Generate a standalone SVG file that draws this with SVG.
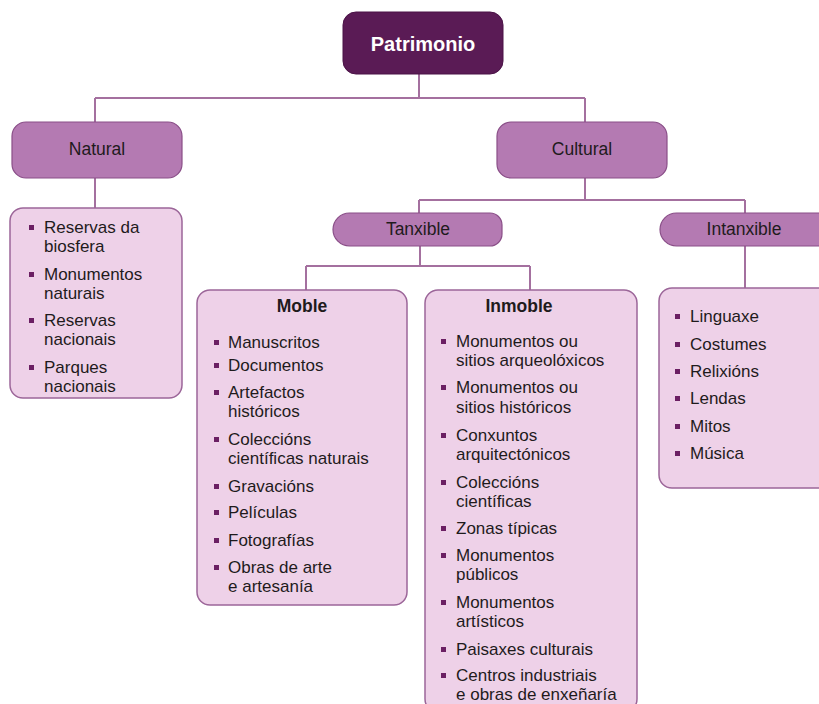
<svg xmlns="http://www.w3.org/2000/svg" width="819" height="704" viewBox="0 0 819 704">
<style>
  .conn { fill: none; stroke: #a4709f; stroke-width: 2; }
  .root { fill: #5a1b55; stroke: #4a1246; stroke-width: 1; }
  .mid { fill: #b47ab2; stroke: #8a4f88; stroke-width: 1.2; }
  .list { fill: #eed1e8; stroke: #9c6699; stroke-width: 1.5; }
  .t { font-family: "Liberation Sans", Arial, sans-serif; fill: #1f1b1c; }
  .lbl { font-size: 17.5px; text-anchor: middle; }
  .ttl { font-size: 17.5px; font-weight: bold; text-anchor: middle; }
  .li { font-size: 17px; }
  .rt { font-family: "Liberation Sans", Arial, sans-serif; font-size: 20px; font-weight: bold; fill: #ffffff; text-anchor: middle; }
  .b { fill: #6b1f63; }
</style>
<rect width="819" height="704" fill="#ffffff"/>

<g id="connectors">
  <path class="conn" d="M419 74 V98 M95 98 H585 M95 98 V122 M585 98 V122"/>
  <path class="conn" d="M95 178 V208"/>
  <path class="conn" d="M585 178 V200 M419 200 H745 M419 200 V213 M745 200 V213"/>
  <path class="conn" d="M420 246 V266 M306 266 H530 M306 266 V290 M530 266 V290"/>
  <path class="conn" d="M745 246 V288"/>
</g>

<g id="patrimonio">
  <rect class="root" x="343" y="12" width="160" height="62" rx="13"/>
  <text class="rt" x="423" y="51">Patrimonio</text>
</g>

<g id="natural">
  <rect class="mid" x="12" y="122" width="170" height="56" rx="14"/>
  <text class="t lbl" x="97" y="155">Natural</text>
</g>

<g id="cultural">
  <rect class="mid" x="497" y="122" width="170" height="56" rx="14"/>
  <text class="t lbl" x="582" y="155">Cultural</text>
</g>

<g id="tanxible">
  <path class="mid" d="M349.5 213 H490 A12 12 0 0 1 502 225 V234 A12 12 0 0 1 490 246 H349.5 A16.5 16.5 0 0 1 349.5 213 Z"/>
  <text class="t lbl" x="418" y="235">Tanxible</text>
</g>

<g id="intanxible">
  <path class="mid" d="M676.5 213 H820 A12 12 0 0 1 832 225 V234 A12 12 0 0 1 820 246 H676.5 A16.5 16.5 0 0 1 676.5 213 Z"/>
  <text class="t lbl" x="744" y="235">Intanxible</text>
</g>

<g id="natural-list">
  <rect class="list" x="10" y="208" width="172" height="190" rx="13"/>
  <rect class="b" x="29" y="225" width="5" height="5"/>
  <text class="t li" x="44" y="233">Reservas da</text>
  <text class="t li" x="44" y="252">biosfera</text>
  <rect class="b" x="29" y="272" width="5" height="5"/>
  <text class="t li" x="44" y="280">Monumentos</text>
  <text class="t li" x="44" y="299">naturais</text>
  <rect class="b" x="29" y="318" width="5" height="5"/>
  <text class="t li" x="44" y="326">Reservas</text>
  <text class="t li" x="44" y="345">nacionais</text>
  <rect class="b" x="29" y="365" width="5" height="5"/>
  <text class="t li" x="44" y="373">Parques</text>
  <text class="t li" x="44" y="392">nacionais</text>
</g>

<g id="moble">
  <rect class="list" x="197" y="290" width="210" height="315" rx="13"/>
  <text class="t ttl" x="302" y="312">Moble</text>
  <rect class="b" x="214" y="340" width="5" height="5"/>
  <text class="t li" x="228" y="348">Manuscritos</text>
  <rect class="b" x="214" y="363" width="5" height="5"/>
  <text class="t li" x="228" y="371">Documentos</text>
  <rect class="b" x="214" y="390" width="5" height="5"/>
  <text class="t li" x="228" y="398">Artefactos</text>
  <text class="t li" x="228" y="417">históricos</text>
  <rect class="b" x="214" y="437" width="5" height="5"/>
  <text class="t li" x="228" y="445">Coleccións</text>
  <text class="t li" x="228" y="464">científicas naturais</text>
  <rect class="b" x="214" y="484" width="5" height="5"/>
  <text class="t li" x="228" y="492">Gravacións</text>
  <rect class="b" x="214" y="510" width="5" height="5"/>
  <text class="t li" x="228" y="518">Películas</text>
  <rect class="b" x="214" y="538" width="5" height="5"/>
  <text class="t li" x="228" y="546">Fotografías</text>
  <rect class="b" x="214" y="565" width="5" height="5"/>
  <text class="t li" x="228" y="573">Obras de arte</text>
  <text class="t li" x="228" y="592">e artesanía</text>
</g>

<g id="inmoble">
  <rect class="list" x="425" y="290" width="212" height="422" rx="13"/>
  <text class="t ttl" x="519" y="312">Inmoble</text>
  <rect class="b" x="441" y="339" width="5" height="5"/>
  <text class="t li" x="456" y="347">Monumentos ou</text>
  <text class="t li" x="456" y="366">sitios arqueolóxicos</text>
  <rect class="b" x="441" y="385" width="5" height="5"/>
  <text class="t li" x="456" y="393">Monumentos ou</text>
  <text class="t li" x="456" y="413">sitios históricos</text>
  <rect class="b" x="441" y="433" width="5" height="5"/>
  <text class="t li" x="456" y="441">Conxuntos</text>
  <text class="t li" x="456" y="460">arquitectónicos</text>
  <rect class="b" x="441" y="480" width="5" height="5"/>
  <text class="t li" x="456" y="488">Coleccións</text>
  <text class="t li" x="456" y="507">científicas</text>
  <rect class="b" x="441" y="526" width="5" height="5"/>
  <text class="t li" x="456" y="534">Zonas típicas</text>
  <rect class="b" x="441" y="553" width="5" height="5"/>
  <text class="t li" x="456" y="561">Monumentos</text>
  <text class="t li" x="456" y="580">públicos</text>
  <rect class="b" x="441" y="600" width="5" height="5"/>
  <text class="t li" x="456" y="608">Monumentos</text>
  <text class="t li" x="456" y="627">artísticos</text>
  <rect class="b" x="441" y="647" width="5" height="5"/>
  <text class="t li" x="456" y="655">Paisaxes culturais</text>
  <rect class="b" x="441" y="673" width="5" height="5"/>
  <text class="t li" x="456" y="681">Centros industriais</text>
  <text class="t li" x="456" y="700">e obras de enxeñaría</text>
</g>

<g id="intanxible-list">
  <rect class="list" x="659" y="288" width="175" height="200" rx="13"/>
  <rect class="b" x="675" y="314" width="5" height="5"/>
  <text class="t li" x="690" y="322">Linguaxe</text>
  <rect class="b" x="675" y="342" width="5" height="5"/>
  <text class="t li" x="690" y="350">Costumes</text>
  <rect class="b" x="675" y="369" width="5" height="5"/>
  <text class="t li" x="690" y="377">Relixións</text>
  <rect class="b" x="675" y="396" width="5" height="5"/>
  <text class="t li" x="690" y="404">Lendas</text>
  <rect class="b" x="675" y="424" width="5" height="5"/>
  <text class="t li" x="690" y="432">Mitos</text>
  <rect class="b" x="675" y="451" width="5" height="5"/>
  <text class="t li" x="690" y="459">Música</text>
</g>
</svg>
